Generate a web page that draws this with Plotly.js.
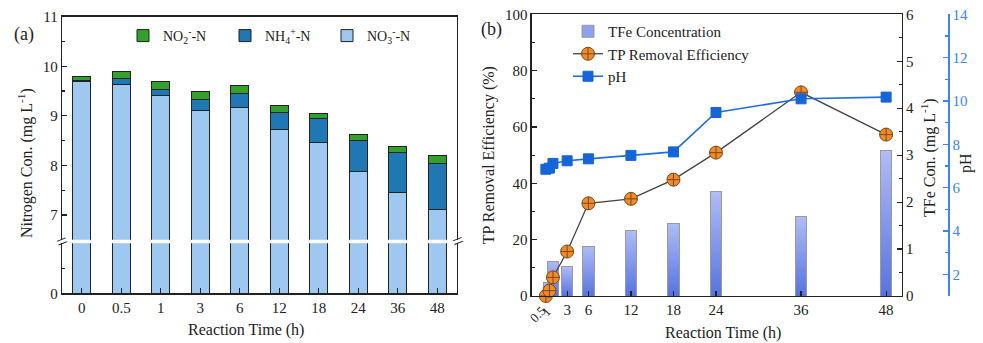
<!DOCTYPE html>
<html>
<head>
<meta charset="utf-8">
<script src="https://cdn.plot.ly/plotly-3.0.1.min.js"></script>
<style>
html,body{margin:0;padding:0;background:#fff;}
#chart{width:983px;height:343px;}
</style>
</head>
<body>
<div id="chart"></div>
<script>
// ---------- Panel (a) data ----------
const categories = ['0', '0.5', '1', '3', '6', '12', '18', '24', '36', '48'];
const no3N = [9.70, 9.64, 9.41, 9.10, 9.17, 8.73, 8.46, 7.87, 7.45, 7.12];
const nh4N = [0.01, 0.11, 0.13, 0.23, 0.29, 0.34, 0.49, 0.64, 0.82, 0.92];
const no2N = [0.08, 0.14, 0.16, 0.16, 0.15, 0.13, 0.10, 0.11, 0.12, 0.16];

// ---------- Panel (b) data ----------
const time = [0, 0.5, 1, 3, 6, 12, 18, 24, 36, 48];
const tfeConc = [null, 0.28, 0.74, 0.62, 1.05, 1.40, 1.55, 2.22, 1.69, 3.10];
const tpRemoval = [0, 1.9, 6.6, 15.8, 32.9, 34.5, 41.3, 50.9, 72.3, 57.3];
const pHValues = [6.85, 6.90, 7.12, 7.24, 7.33, 7.49, 7.65, 9.47, 10.10, 10.18];
const mainTickVals = [3, 6, 12, 18, 24, 36, 48];
const mainTickText = ['3', '6', '12', '18', '24', '36', '48'];
const smallTickVals = [0.5, 1];
const smallTickText = ['0.5', '1'];

const FONT = '"Liberation Serif", "Times New Roman", Times, serif';
const cNO3 = '#9fc8f0', cNH4 = '#1f77b4', cNO2 = '#33a02c';
const outline = {color: '#222', width: 1};

function stackTraces(xa, ya, show) {
  return [
    {type: 'bar', x: categories, y: no3N, name: 'NO<sub>3</sub><sup>-</sup>-N', xaxis: xa, yaxis: ya,
     marker: {color: cNO3, line: outline}, showlegend: show, legend: 'legend'},
    {type: 'bar', x: categories, y: nh4N, name: 'NH<sub>4</sub><sup>+</sup>-N', xaxis: xa, yaxis: ya,
     marker: {color: cNH4, line: outline}, showlegend: show, legend: 'legend'},
    {type: 'bar', x: categories, y: no2N, name: 'NO<sub>2</sub><sup>-</sup>-N', xaxis: xa, yaxis: ya,
     marker: {color: cNO2, line: outline}, showlegend: show, legend: 'legend'}
  ];
}

const data = [
  ...stackTraces('x', 'y', false),
  ...stackTraces('x2', 'y2', true),
  {type: 'bar', x: time, y: tfeConc, name: 'TFe Concentration', xaxis: 'x3', yaxis: 'y3',
   width: 1.65, marker: {color: '#8da1ee', line: {color: '#9a9a9a', width: 1}}, legend: 'legend2'},
  {type: 'scatter', mode: 'lines+markers', x: time, y: tpRemoval, name: 'TP Removal Efficiency',
   xaxis: 'x3', yaxis: 'y4', cliponaxis: false, legend: 'legend2',
   line: {color: '#444', width: 1.3},
   marker: {symbol: 'circle-cross', size: 13, color: '#f08a2a', line: {color: '#7a4a1a', width: 1}}},
  {type: 'scatter', mode: 'lines+markers', x: time, y: pHValues, name: 'pH',
   xaxis: 'x3', yaxis: 'y5', cliponaxis: false, legend: 'legend2',
   line: {color: '#1f6fe0', width: 1.6},
   marker: {symbol: 'square', size: 10, color: '#1565d8', line: {color: '#1565d8', width: 1}}}
];

const tickFont = {family: FONT, size: 15, color: '#222'};
const axBase = {showgrid: false, zeroline: false, showline: true, linecolor: '#222', linewidth: 1.3,
  ticks: 'inside', ticklen: 5, tickwidth: 1.2, tickcolor: '#222', tickfont: tickFont};

const lx0 = 62 / 983, lx1 = 457 / 983;
const rx0 = 531.7 / 983, rx1 = 901.7 / 983;
const txt = function (s, x, y, size, extra) {
  return Object.assign({text: s, xref: 'paper', yref: 'paper', x: x / 983, y: (343 - y) / 343,
    xanchor: 'center', yanchor: 'middle', showarrow: false,
    font: {family: FONT, size: size, color: '#222'}}, extra || {});
};

const annotations = [
  txt('(a)', 24, 34, 18),
  txt('(b)', 491, 30, 18),
  txt('Nitrogen Con. (mg L<sup>-1</sup>)', 25, 163, 16, {textangle: -90}),
  txt('Reaction Time (h)', 246, 330, 16),
  txt('Reaction Time (h)', 723, 333, 16),
  txt('TFe Con. (mg L<sup>-1</sup>)', 928, 158, 16, {textangle: -90}),
  txt('pH', 966, 163, 16, {textangle: -90}),
  txt('=', 62, 240.5, 20, {textangle: -22}),
  txt('=', 457, 240.5, 20, {textangle: -22})
];
smallTickVals.forEach(function (v, i) {
  annotations.push({text: smallTickText[i], xref: 'x3', yref: 'paper', x: v, y: (343 - 301) / 343,
    xanchor: 'right', yanchor: 'top', textangle: -45, showarrow: false, xshift: 2 + 2 * i,
    font: {family: FONT, size: 13, color: '#222'}});
});

const layout = {
  width: 983, height: 343,
  margin: {l: 0, r: 0, t: 0, b: 0},
  paper_bgcolor: '#fff', plot_bgcolor: '#fff',
  font: {family: FONT, size: 15, color: '#222'},
  barmode: 'stack', bargap: 0.543,
  xaxis: Object.assign({}, axBase, {domain: [lx0, lx1], anchor: 'y', type: 'category', mirror: false}),
  xaxis2: {domain: [lx0, lx1], anchor: 'y2', type: 'category', matches: 'x', side: 'top', showline: true,
           linecolor: '#222', linewidth: 1.3, showticklabels: false, ticks: '', showgrid: false, zeroline: false},
  yaxis: Object.assign({}, axBase, {domain: [0.1449, 0.2907], anchor: 'x', range: [0, 2], mirror: true,
           tickvals: [0], ticktext: ['0'],
           minor: {tickvals: [1], ticks: 'inside', ticklen: 3, tickcolor: '#222', showgrid: false}}),
  yaxis2: Object.assign({}, axBase, {domain: [0.3009, 0.9513], anchor: 'x2', range: [6.5, 11], mirror: true,
           dtick: 1, tick0: 7,
           minor: {dtick: 0.5, ticks: 'inside', ticklen: 3, tickcolor: '#222', showgrid: false}}),
  xaxis3: Object.assign({}, axBase, {domain: [rx0, rx1], anchor: 'y3', range: [-2, 50.2], mirror: true,
           tickvals: mainTickVals, ticktext: mainTickText}),
  yaxis3: Object.assign({}, axBase, {domain: [0.137, 0.9583], anchor: 'x3', side: 'right', range: [0, 6],
           dtick: 1, minor: {dtick: 0.5, ticks: 'inside', ticklen: 3, tickcolor: '#222', showgrid: false}}),
  yaxis4: Object.assign({}, axBase, {overlaying: 'y3', anchor: 'x3', side: 'left', range: [0, 100],
           dtick: 20, minor: {dtick: 10, ticks: 'inside', ticklen: 3, tickcolor: '#222', showgrid: false},
           title: {text: 'TP Removal Efficiency (%)', font: {family: FONT, size: 16, color: '#222'}, standoff: 6}}),
  yaxis5: Object.assign({}, axBase, {overlaying: 'y3', anchor: 'free', position: 948.3 / 983, side: 'right',
           range: [1, 14], dtick: 2, tick0: 0, linecolor: '#3d85f0', tickcolor: '#3d85f0',
           tickfont: {family: FONT, size: 15, color: '#3d85f0'},
           minor: {dtick: 1, ticks: 'inside', ticklen: 3, tickcolor: '#3d85f0', showgrid: false}}),
  legend: {orientation: 'h', x: 123 / 983, xanchor: 'left', y: (343 - 36) / 343, yanchor: 'middle',
           traceorder: 'reversed', entrywidth: 57, entrywidthmode: 'pixels',
           font: {family: FONT, size: 14, color: '#222'}, bgcolor: 'rgba(0,0,0,0)'},
  legend2: {orientation: 'v', x: 568 / 983, xanchor: 'left', y: (343 - 54) / 343, yanchor: 'middle',
           traceorder: 'normal',
           font: {family: FONT, size: 15, color: '#222'}, bgcolor: 'rgba(0,0,0,0)', tracegroupgap: 0},
  annotations: annotations
};

Plotly.newPlot('chart', data, layout, {staticPlot: true, displayModeBar: false}).then(function (gd) {
  const ns = 'http://www.w3.org/2000/svg';
  const svg = gd.querySelector('svg.main-svg');
  let defs = svg.querySelector('defs');
  if (!defs) { defs = document.createElementNS(ns, 'defs'); svg.insertBefore(defs, svg.firstChild); }
  const grad = document.createElementNS(ns, 'linearGradient');
  grad.setAttribute('id', 'tfeGrad');
  grad.setAttribute('x1', '0'); grad.setAttribute('y1', '0');
  grad.setAttribute('x2', '0'); grad.setAttribute('y2', '1');
  [['0', '#b0bcf5'], ['1', '#5673e0']].forEach(function (s) {
    const st = document.createElementNS(ns, 'stop');
    st.setAttribute('offset', s[0]); st.setAttribute('stop-color', s[1]);
    grad.appendChild(st);
  });
  defs.appendChild(grad);
  const isTfe = function (el) {
    const d = el.__data__;
    return d && d[0] && d[0].trace && d[0].trace.name === 'TFe Concentration';
  };
  gd.querySelectorAll('.barlayer .trace').forEach(function (g) {
    if (isTfe(g)) g.querySelectorAll('path').forEach(function (p) { p.style.fill = 'url(#tfeGrad)'; });
  });
  gd.querySelectorAll('.legend .traces').forEach(function (g) {
    if (isTfe(g)) g.querySelectorAll('.legendpoints path').forEach(function (p) { p.style.fill = 'url(#tfeGrad)'; });
  });
});
</script>
</body>
</html>
